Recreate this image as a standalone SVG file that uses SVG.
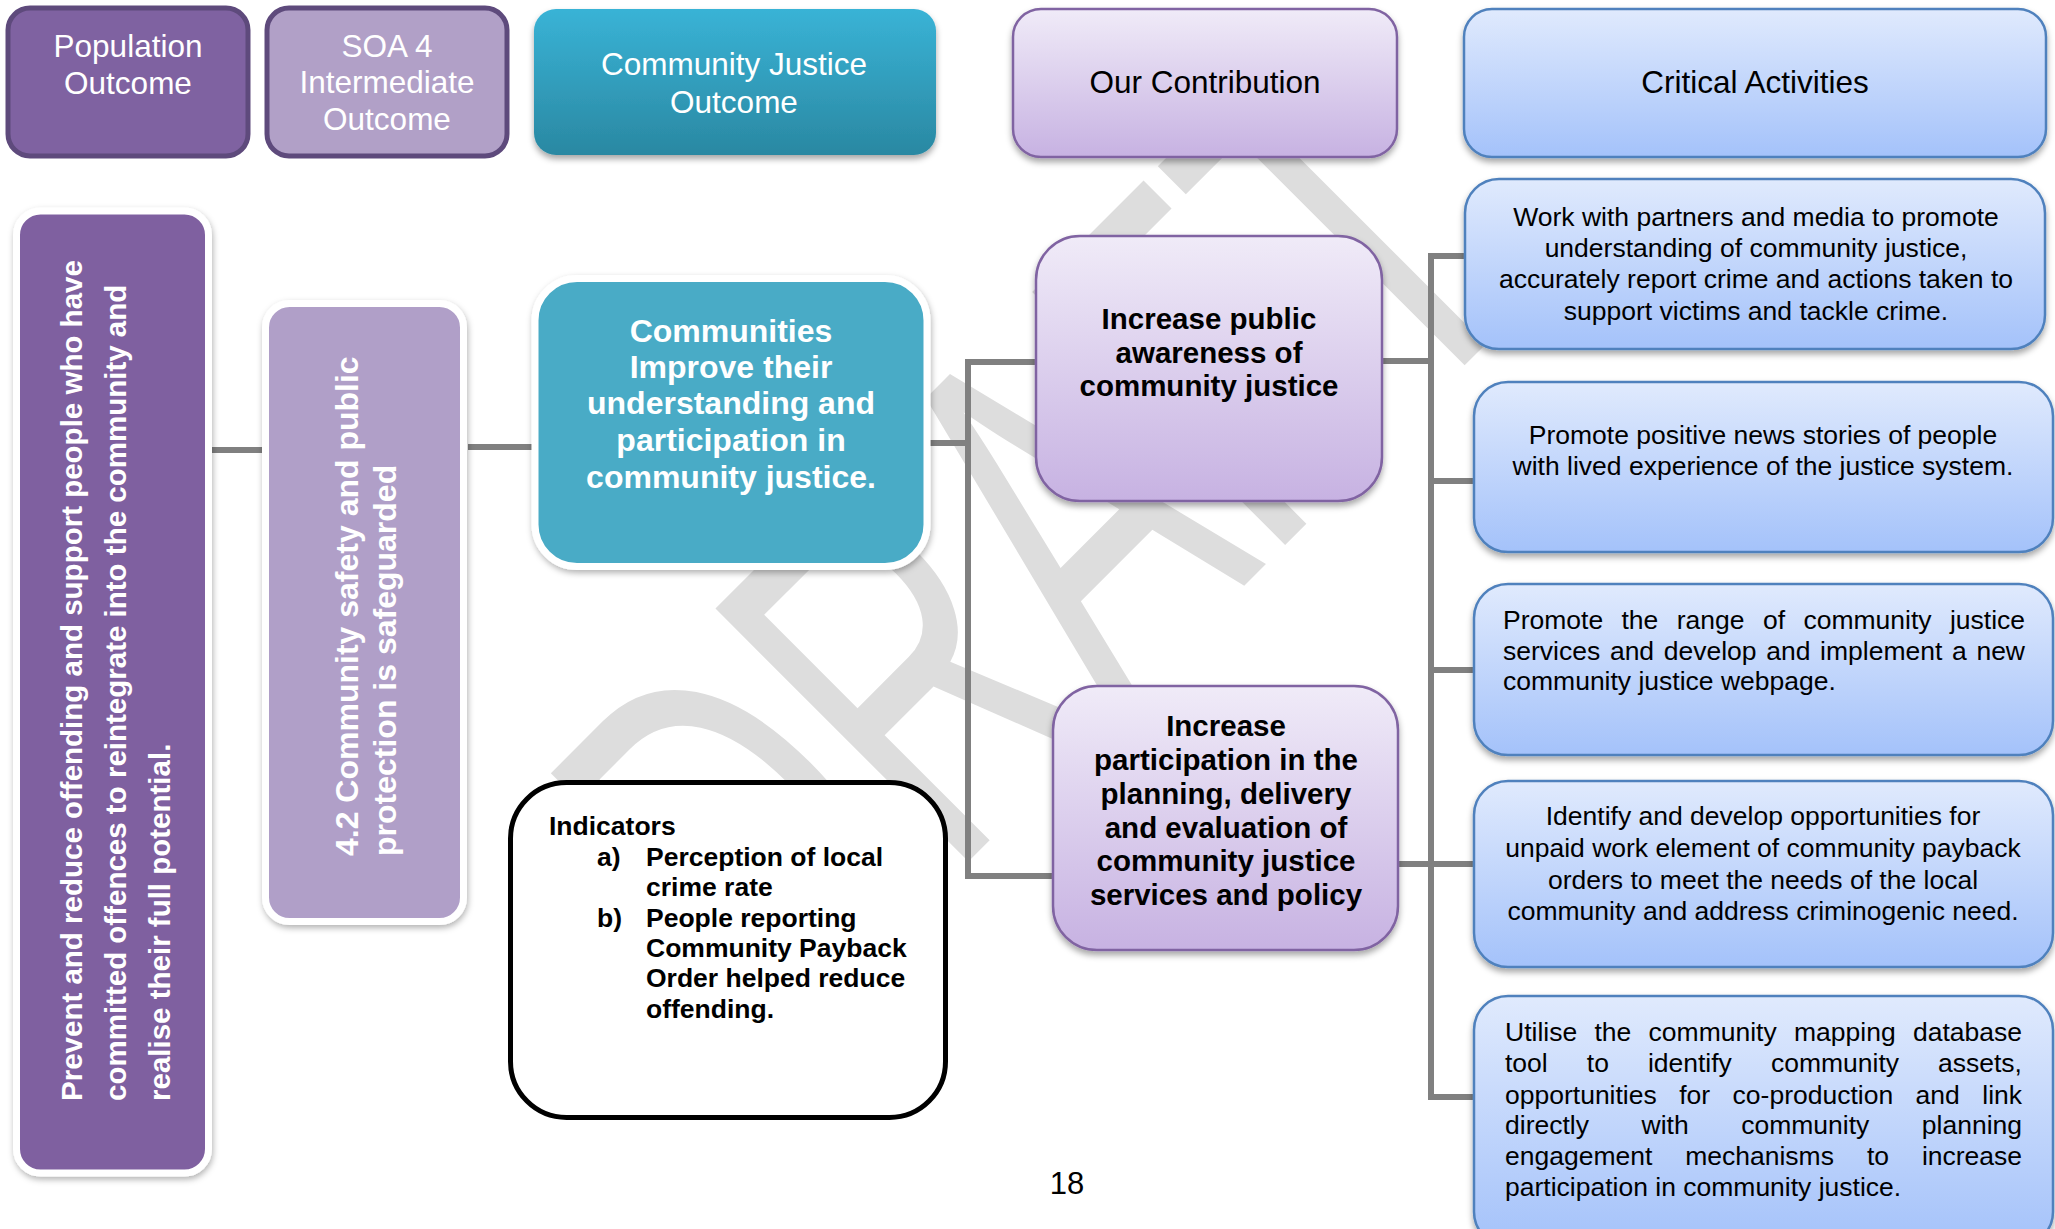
<svg xmlns="http://www.w3.org/2000/svg" width="2055" height="1229" viewBox="0 0 2055 1229">
<defs>
  <linearGradient id="gTeal" x1="0" y1="0" x2="0" y2="1"><stop offset="0" stop-color="#39b3d6"/><stop offset="1" stop-color="#2a88a2"/></linearGradient>
  <linearGradient id="gLav" x1="0" y1="0" x2="0" y2="1"><stop offset="0" stop-color="#f0ebf8"/><stop offset="1" stop-color="#c7b2e2"/></linearGradient>
  <linearGradient id="gBlue" x1="0" y1="0" x2="0" y2="1"><stop offset="0" stop-color="#e0eafd"/><stop offset="1" stop-color="#a4c2fa"/></linearGradient>
  <filter id="sh" x="-10%" y="-10%" width="120%" height="130%"><feDropShadow dx="0" dy="4" stdDeviation="3" flood-color="#000" flood-opacity="0.35"/></filter>
  <filter id="halo" x="-10%" y="-10%" width="120%" height="120%"><feDropShadow dx="1" dy="3" stdDeviation="3" flood-color="#000" flood-opacity="0.3"/></filter>
</defs>
<style>
  text{font-family:"Liberation Sans",Arial,sans-serif}
  .hw{fill:#fff;font-size:31.5px;text-anchor:middle}
  .hb{fill:#000;font-size:31.5px;text-anchor:middle}
  .vt{fill:#fff;font-weight:bold}
  .cw{fill:#fff;font-weight:bold;font-size:32px;text-anchor:middle}
  .cb{fill:#000;font-weight:bold;font-size:29.5px;text-anchor:middle}
  .ind{fill:#000;font-weight:bold;font-size:26.5px}
  .act{fill:#000;font-size:26.5px}
  .mid{text-anchor:middle}
  .conn{stroke:#808080;stroke-width:6;fill:none}
  .hdrDark{stroke:#5e4a7c;stroke-width:5}
  .lav{fill:url(#gLav);stroke:#8064a2;stroke-width:2.5}
  .blue{fill:url(#gBlue);stroke:#4f81bd;stroke-width:2.5}
  .wb{stroke:#fff;stroke-width:7}
</style>
<rect width="2055" height="1229" fill="#fff"/>

<g id="watermark">
  <text x="0" y="0" transform="translate(1165,665) rotate(-45) scale(0.62,1)" font-size="520" fill="#dddddd" text-anchor="middle">DRAFT</text>
</g>

<g id="connectors">
  <path class="conn" d="M212,450 H266"/>
  <path class="conn" d="M468,447 H532"/>
  <path class="conn" d="M925,443 H968"/>
  <path class="conn" d="M1036,362 H968 V876 H1053"/>
  <path class="conn" d="M1382,361 H1431"/>
  <path class="conn" d="M1398,864 H1431"/>
  <path class="conn" d="M1466,256 H1431 V1097 H1474"/>
  <path class="conn" d="M1431,481 H1474"/>
  <path class="conn" d="M1431,670 H1474"/>
  <path class="conn" d="M1431,864 H1474"/>
</g>

<g id="hdr-population">
  <rect class="hdrDark" x="8" y="8" width="240" height="148" rx="22" fill="#7f62a1"/>
  <text class="hw"><tspan x="128" y="57">Population</tspan><tspan x="128" y="94">Outcome</tspan></text>
</g>
<g id="hdr-soa">
  <rect class="hdrDark" x="267" y="8" width="240" height="148" rx="22" fill="#b1a0c7"/>
  <text class="hw"><tspan x="387" y="57">SOA 4</tspan><tspan x="387" y="93">Intermediate</tspan><tspan x="387" y="130">Outcome</tspan></text>
</g>
<g id="hdr-cj">
  <rect x="534" y="9" width="402" height="146" rx="22" fill="url(#gTeal)" filter="url(#sh)"/>
  <text class="hw"><tspan x="734" y="75">Community Justice</tspan><tspan x="734" y="113">Outcome</tspan></text>
</g>
<g id="hdr-contribution">
  <rect class="lav" x="1013" y="9" width="384" height="148" rx="28" filter="url(#sh)"/>
  <text class="hb" x="1205" y="93">Our Contribution</text>
</g>
<g id="hdr-critical">
  <rect class="blue" x="1464" y="9" width="582" height="148" rx="28" filter="url(#sh)"/>
  <text class="hb" x="1755" y="93">Critical Activities</text>
</g>

<g id="population-outcome">
  <rect class="wb" x="16.5" y="211" width="192" height="962" rx="24" fill="#7f60a0" filter="url(#halo)"/>
  <text class="vt" font-size="29.5" transform="translate(82,1101) rotate(-90)">Prevent and reduce offending and support people who have</text>
  <text class="vt" font-size="29.5" transform="translate(126,1101) rotate(-90)">committed offences to reintegrate into the community and</text>
  <text class="vt" font-size="29.5" transform="translate(170,1101) rotate(-90)">realise their full potential.</text>
</g>

<g id="soa-outcome">
  <rect class="wb" x="265.5" y="303.5" width="198" height="618" rx="24" fill="#b09fc8" filter="url(#halo)"/>
  <text class="vt" font-size="32" transform="translate(358,856) rotate(-90)">4.2 Community safety and public</text>
  <text class="vt" font-size="32" transform="translate(396,856) rotate(-90)">protection is safeguarded</text>
</g>

<g id="community-outcome">
  <rect class="wb" x="535" y="278.5" width="392" height="288" rx="42" fill="#4aabc6" filter="url(#halo)"/>
  <text class="cw"><tspan x="731" y="342">Communities</tspan><tspan x="731" y="378">Improve their</tspan><tspan x="731" y="414">understanding and</tspan><tspan x="731" y="451">participation in</tspan><tspan x="731" y="488">community justice.</tspan></text>
</g>

<g id="indicators">
  <rect x="510.5" y="782.5" width="435" height="335" rx="56" fill="#fff" stroke="#000" stroke-width="5"/>
  <text class="ind">
    <tspan x="549" y="835">Indicators</tspan>
    <tspan x="597" y="866">a)</tspan><tspan x="646" y="866">Perception of local</tspan>
    <tspan x="646" y="896">crime rate</tspan>
    <tspan x="597" y="927">b)</tspan><tspan x="646" y="927">People reporting</tspan>
    <tspan x="646" y="957">Community Payback</tspan>
    <tspan x="646" y="987">Order helped reduce</tspan>
    <tspan x="646" y="1018">offending.</tspan>
  </text>
</g>

<g id="contribution-1">
  <rect class="lav" x="1036" y="236" width="346" height="265" rx="44" filter="url(#sh)"/>
  <text class="cb"><tspan x="1209" y="329">Increase public</tspan><tspan x="1209" y="363">awareness of</tspan><tspan x="1209" y="396">community justice</tspan></text>
</g>

<g id="contribution-2">
  <rect class="lav" x="1053" y="686" width="345" height="264" rx="44" filter="url(#sh)"/>
  <text class="cb"><tspan x="1226" y="736">Increase</tspan><tspan x="1226" y="770">participation in the</tspan><tspan x="1226" y="804">planning, delivery</tspan><tspan x="1226" y="838">and evaluation of</tspan><tspan x="1226" y="871">community justice</tspan><tspan x="1226" y="905">services and policy</tspan></text>
</g>

<g id="activity-1">
  <rect class="blue" x="1465" y="179" width="580" height="170" rx="34" filter="url(#sh)"/>
  <text class="act mid"><tspan x="1756" y="226">Work with partners and media to promote</tspan><tspan x="1756" y="257">understanding of community justice,</tspan><tspan x="1756" y="288">accurately report crime and actions taken to</tspan><tspan x="1756" y="320">support victims and tackle crime.</tspan></text>
</g>

<g id="activity-2">
  <rect class="blue" x="1474" y="382" width="579" height="170" rx="34" filter="url(#sh)"/>
  <text class="act mid"><tspan x="1763" y="444">Promote positive news stories of people</tspan><tspan x="1763" y="475">with lived experience of the justice system.</tspan></text>
</g>

<g id="activity-3">
  <rect class="blue" x="1474" y="584" width="579" height="171" rx="34" filter="url(#sh)"/>
  <text class="act">
    <tspan x="1503" y="629">Promote</tspan><tspan x="1621.5" y="629">the</tspan><tspan x="1676.7" y="629">range</tspan><tspan x="1762.9" y="629">of</tspan><tspan x="1803.4" y="629">community</tspan><tspan x="1949.9" y="629">justice</tspan>
    <tspan x="1503" y="660">services</tspan><tspan x="1609.9" y="660">and</tspan><tspan x="1663.7" y="660">develop</tspan><tspan x="1766.2" y="660">and</tspan><tspan x="1820.1" y="660">implement</tspan><tspan x="1952" y="660">a</tspan><tspan x="1976.4" y="660">new</tspan>
    <tspan x="1503" y="690">community justice webpage.</tspan>
  </text>
</g>

<g id="activity-4">
  <rect class="blue" x="1474" y="781" width="579" height="186" rx="34" filter="url(#sh)"/>
  <text class="act mid"><tspan x="1763" y="825">Identify and develop opportunities for</tspan><tspan x="1763" y="857">unpaid work element of community payback</tspan><tspan x="1763" y="889">orders to meet the needs of the local</tspan><tspan x="1763" y="920">community and address criminogenic need.</tspan></text>
</g>

<g id="activity-5">
  <rect class="blue" x="1474" y="996" width="579" height="250" rx="34" filter="url(#sh)"/>
  <text class="act">
    <tspan x="1505" y="1041">Utilise</tspan><tspan x="1594.5" y="1041">the</tspan><tspan x="1648.6" y="1041">community</tspan><tspan x="1794" y="1041">mapping</tspan><tspan x="1913" y="1041">database</tspan>
    <tspan x="1505" y="1072">tool</tspan><tspan x="1586.8" y="1072">to</tspan><tspan x="1647.9" y="1072">identify</tspan><tspan x="1770.9" y="1072">community</tspan><tspan x="1938" y="1072">assets,</tspan>
    <tspan x="1505" y="1104">opportunities</tspan><tspan x="1679.2" y="1104">for</tspan><tspan x="1732.6" y="1104">co-production</tspan><tspan x="1915.6" y="1104">and</tspan><tspan x="1982.3" y="1104">link</tspan>
    <tspan x="1505" y="1134">directly</tspan><tspan x="1641.5" y="1134">with</tspan><tspan x="1741.2" y="1134">community</tspan><tspan x="1921.8" y="1134">planning</tspan>
    <tspan x="1505" y="1165">engagement</tspan><tspan x="1685.2" y="1165">mechanisms</tspan><tspan x="1866.9" y="1165">to</tspan><tspan x="1921.9" y="1165">increase</tspan>
    <tspan x="1505" y="1196">participation in community justice.</tspan>
  </text>
</g>

<g id="page-number">
  <text x="1067" y="1194" font-size="31" fill="#000" text-anchor="middle">18</text>
</g>
</svg>
